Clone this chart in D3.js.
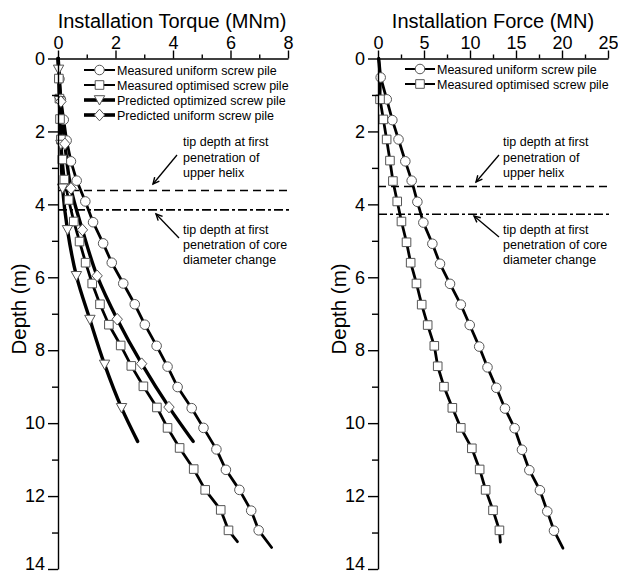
<!DOCTYPE html>
<html><head><meta charset="utf-8">
<script src="https://cdn.jsdelivr.net/npm/d3@7"></script>
<style>
body{margin:0;background:#fff;}
text{font-family:Arial,"Liberation Sans",sans-serif;fill:#000;}
</style></head>
<body><svg id="c" width="618" height="575"></svg>
<script>
// ---------- data ----------
// Torque panel (MNm) vs depth (m)
const tqUniMeasDepth = [0,0.56,1.12,1.68,2.25,2.82,3.35,3.92,4.49,5.07,5.60,6.17,6.74,7.30,7.88,8.45,9.01,9.59,10.13,10.72,11.28,11.83,12.40,12.94,13.41];
const tqUniMeasValue = [0.02,0.05,0.10,0.20,0.30,0.45,0.65,0.95,1.22,1.57,1.87,2.27,2.67,3.02,3.43,3.81,4.16,4.65,5.06,5.51,5.84,6.31,6.72,6.98,7.43];
const tqOptMeasDepth = [0,0.55,1.10,1.66,2.22,2.77,3.32,3.88,4.47,5.02,5.60,6.17,6.74,7.30,7.87,8.43,8.99,9.57,10.13,10.68,11.26,11.83,12.38,12.94,13.25];
const tqOptMeasValue = [0.02,0.03,0.05,0.07,0.10,0.15,0.22,0.37,0.55,0.75,0.96,1.19,1.46,1.77,2.18,2.55,2.97,3.44,3.81,4.23,4.72,5.12,5.66,5.93,6.24];
const tqOptPredDepth = [0,0.30,1.16,2.36,3.56,4.70,5.96,7.16,8.39,9.58,10.50];
const tqOptPredValue = [0,0.02,0.05,0.10,0.16,0.33,0.64,1.11,1.62,2.21,2.77];
const tqUniPredDepth = [0,1.18,2.34,3.56,4.70,5.96,7.15,8.37,9.56,10.50];
const tqUniPredValue = [0,0.10,0.24,0.45,0.85,1.36,2.06,2.91,3.86,4.70];
// Force panel (MN) vs depth (m)
const fUniMeasDepth = [0,0.52,1.12,1.69,2.22,2.82,3.35,3.93,4.50,5.08,5.63,6.18,6.75,7.31,7.90,8.47,9.03,9.60,10.14,10.73,11.29,11.84,12.42,12.95,13.43];
const fUniMeasValue = [0.10,0.29,0.95,1.56,2.23,2.97,3.66,4.28,4.93,5.91,6.74,7.83,9.00,9.97,11.00,11.90,12.86,13.80,14.85,15.65,16.45,17.60,18.40,19.13,20.10];
const fOptMeasDepth = [0,0.55,1.12,1.67,2.22,2.80,3.36,3.92,4.47,5.04,5.60,6.17,6.75,7.31,7.88,8.44,9.00,9.58,10.13,10.69,11.27,11.83,12.39,12.94,13.26];
const fOptMeasValue = [0.05,0.25,0.22,0.58,0.94,1.30,1.62,2.09,2.55,3.10,3.55,4.18,4.75,5.40,6.12,6.49,7.17,8.08,9.00,10.20,11.05,11.70,12.50,13.20,13.30];

const torqueTicks = [0,2,4,6,8];
const forceTicks = [0,5,10,15,20,25];
const depthTicks = [0,2,4,6,8,10,12,14];

const torqueHelixDepth = 3.62, torqueCoreDepth = 4.15;
const forceHelixDepth = 3.51, forceCoreDepth = 4.27;

const torqueLegend = ["Measured uniform screw pile","Measured optimised screw pile","Predicted optimized screw pile","Predicted uniform screw pile"];
const forceLegend = ["Measured uniform screw pile","Measured optimised screw pile"];
const noteHelix = ["tip depth at first","penetration of","upper helix"];
const noteCore = ["tip depth at first","penetration of core","diameter change"];

// ---------- drawing ----------
const svg = d3.select("#c");
svg.append("rect").attr("width",618).attr("height",575).attr("fill","#fff");
const y = d3.scaleLinear().domain([0,14]).range([58.5,569]);

function zip(d,v){return d.map((dd,i)=>[v[i],dd]);}

function markerPath(type){
  if(type==="circle") return d3.symbol(d3.symbolCircle, 72)();
  if(type==="square") return "M-4.3,-4.3H4.3V4.3H-4.3Z";
  if(type==="tri") return "M-5.2,-4.3L5.2,-4.3L0,5Z";
  if(type==="diamond") return "M0,-5.8L5.2,0L0,5.8L-5.2,0Z";
}

function panel(opt){
  const x = d3.scaleLinear().domain(opt.domain).range(opt.range);
  const g = svg.append("g");
  // reference lines
  g.append("line").attr("x1",opt.range[0]).attr("x2",opt.lineEnd)
    .attr("y1",y(opt.helix)).attr("y2",y(opt.helix))
    .attr("stroke","#000").attr("stroke-width",1.6).attr("stroke-dasharray","8,5");
  g.append("line").attr("x1",opt.range[0]).attr("x2",opt.lineEnd)
    .attr("y1",y(opt.core)).attr("y2",y(opt.core))
    .attr("stroke","#000").attr("stroke-width",1.6).attr("stroke-dasharray","9,3,3,3");
  // series lines
  opt.series.forEach(s=>{
    const line = d3.line().x(p=>x(p[0])).y(p=>y(p[1]));
    if(s.smooth) line.curve(d3.curveMonotoneY);
    g.append("path").attr("d",line(s.pts)).attr("fill","none")
      .attr("stroke","#000").attr("stroke-width",s.w).attr("stroke-linejoin","round").attr("stroke-linecap","round");
  });
  opt.series.forEach(s=>{
    const mk = s.pts.slice(s.m0, s.pts.length - s.m1);
    g.selectAll(null).data(mk).enter().append("path")
      .attr("d",markerPath(s.marker))
      .attr("transform",p=>`translate(${x(p[0])},${y(p[1])})`)
      .attr("fill","#fff").attr("stroke","#555").attr("stroke-width",1);
  });
  // axes
  const ax = g.append("g").attr("transform",`translate(0,${y(0)})`)
    .call(d3.axisTop(x).tickValues(opt.ticks).tickSize(8).tickSizeOuter(0).tickPadding(2).tickFormat(d3.format("d")));
  const minorX = [];
  for(let i=0;i<opt.ticks.length-1;i++) minorX.push((opt.ticks[i]+opt.ticks[i+1])/2);
  g.append("g").attr("transform",`translate(0,${y(0)})`)
    .call(d3.axisTop(x).tickValues(minorX).tickSize(4).tickSizeOuter(0).tickFormat(""))
    .select(".domain").remove();
  const ay = g.append("g").attr("transform",`translate(${opt.range[0]},0)`)
    .call(d3.axisLeft(y).tickValues(depthTicks).tickSize(10).tickSizeOuter(0).tickPadding(3).tickFormat(d3.format("d")));
  g.append("g").attr("transform",`translate(${opt.range[0]},0)`)
    .call(d3.axisLeft(y).tickValues([1,3,5,7,9,11,13]).tickSize(6).tickSizeOuter(0).tickFormat(""))
    .select(".domain").remove();
  g.selectAll(".domain, .tick line").attr("stroke","#000").attr("stroke-width",1.4);
  ax.selectAll("text").attr("font-size",18).attr("font-family","Arial, Liberation Sans");
  ay.selectAll("text").attr("font-size",18).attr("font-family","Arial, Liberation Sans")
    .attr("dy",d=>d===14?"0.02em":"0.32em");
  // titles
  g.append("text").attr("x",opt.titleX).attr("y",28).attr("text-anchor","middle")
    .attr("font-size",20).text(opt.title);
  g.append("text").attr("transform",`translate(${opt.range[0]-39},309) rotate(-90)`)
    .attr("text-anchor","middle").attr("dy","0.35em").attr("font-size",20.5).text("Depth (m)");
  // legend
  opt.legend.forEach((lab,i)=>{
    const s = opt.series[i];
    const ly = opt.legY[i];
    g.append("line").attr("x1",opt.legX[0]).attr("x2",opt.legX[1]).attr("y1",ly).attr("y2",ly)
      .attr("stroke","#000").attr("stroke-width",s.legW);
    g.append("path").attr("d",markerPath(s.marker))
      .attr("transform",`translate(${(opt.legX[0]+opt.legX[1])/2},${ly})`)
      .attr("fill","#fff").attr("stroke","#555").attr("stroke-width",1);
    g.append("text").attr("x",opt.legX[1]+2).attr("y",ly).attr("dy","0.36em")
      .attr("font-size",12.5).text(lab);
  });
  // notes
  [[noteHelix,opt.noteY1,opt.arrow1],[noteCore,opt.noteY2,opt.arrow2]].forEach(([lines,ys,ar])=>{
    lines.forEach((t,i)=>g.append("text").attr("x",opt.noteX).attr("y",ys[i]).attr("dy","0.36em")
      .attr("font-size",12.5).text(t));
    const [x1,y1,x2,y2] = ar;
    g.append("line").attr("x1",x1).attr("y1",y1).attr("x2",x2).attr("y2",y2)
      .attr("stroke","#000").attr("stroke-width",1.3);
    const a = Math.atan2(y2-y1,x2-x1), L=7, sp=0.45;
    g.append("path").attr("d",`M${x2-L*Math.cos(a-sp)},${y2-L*Math.sin(a-sp)}L${x2},${y2}L${x2-L*Math.cos(a+sp)},${y2-L*Math.sin(a+sp)}`)
      .attr("fill","none").attr("stroke","#000").attr("stroke-width",1.4);
  });
}

panel({
  domain:[0,8], range:[58,288], ticks:torqueTicks, lineEnd:290,
  helix:torqueHelixDepth, core:torqueCoreDepth,
  title:"Installation Torque (MNm)", titleX:172,
  series:[
    {pts:zip(tqUniMeasDepth,tqUniMeasValue), marker:"circle", w:2.8, legW:2, m0:1, m1:1},
    {pts:zip(tqOptMeasDepth,tqOptMeasValue), marker:"square", w:2.8, legW:2, m0:1, m1:1},
    {pts:zip(tqOptPredDepth,tqOptPredValue), marker:"tri", w:3.4, legW:3.6, m0:1, m1:1, smooth:true},
    {pts:zip(tqUniPredDepth,tqUniPredValue), marker:"diamond", w:3.4, legW:3.6, m0:1, m1:1, smooth:true}
  ],
  legend:torqueLegend, legY:[70,85,100,115], legX:[84,115],
  noteX:183, noteY1:[141,157,172.5], noteY2:[229,244.5,259.5],
  arrow1:[177,155,153,184], arrow2:[179,238,156,214]
});
panel({
  domain:[0,25], range:[378,608], ticks:forceTicks, lineEnd:610,
  helix:forceHelixDepth, core:forceCoreDepth,
  title:"Installation Force (MN)", titleX:493,
  series:[
    {pts:zip(fUniMeasDepth,fUniMeasValue), marker:"circle", w:2.8, legW:2, m0:1, m1:1},
    {pts:zip(fOptMeasDepth,fOptMeasValue), marker:"square", w:2.8, legW:2, m0:2, m1:1}
  ],
  legend:forceLegend, legY:[69,84], legX:[405,435],
  noteX:503, noteY1:[141,157,172.5], noteY2:[229,244.5,259.5],
  arrow1:[499,155,476,182], arrow2:[499,237,474,216]
});
</script></body></html>
